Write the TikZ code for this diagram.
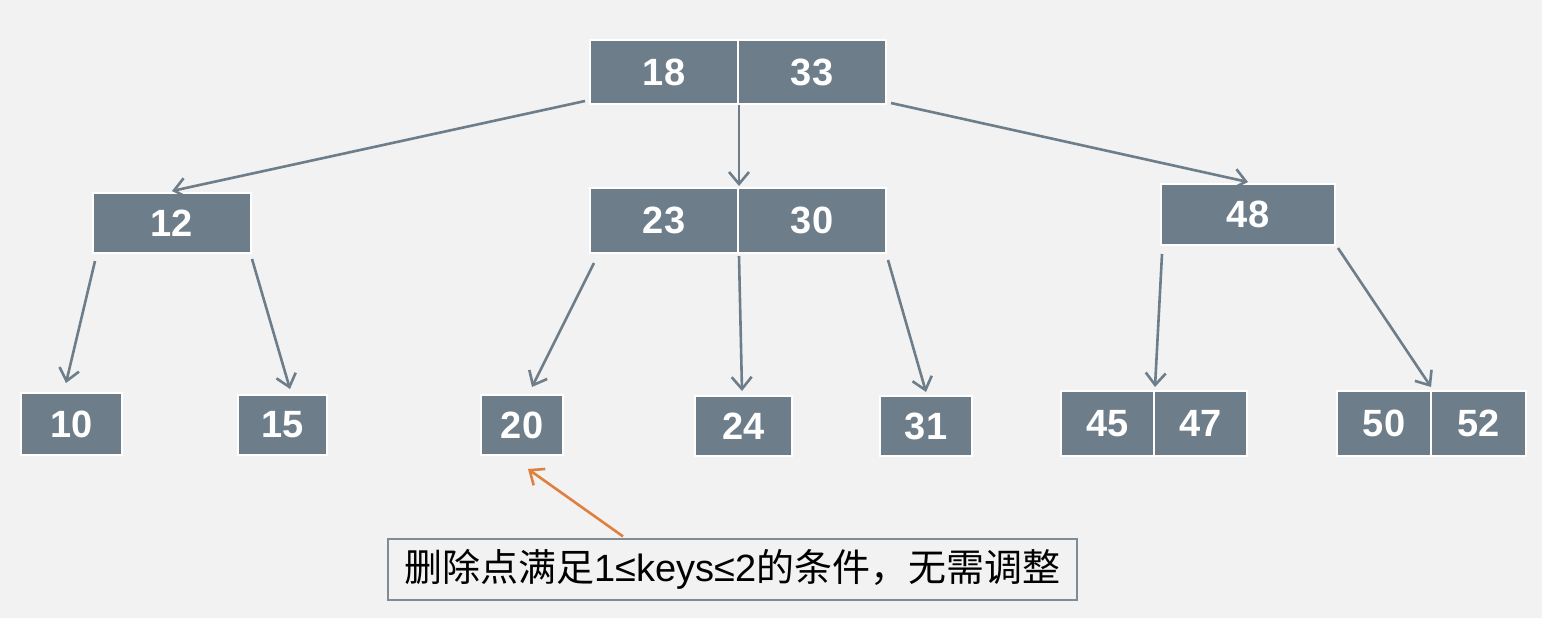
\documentclass[tikz,border=0pt]{standalone}
\usepackage{fontspec}
\setmainfont{Liberation Sans}
\newfontfamily\cjk{Noto Sans CJK SC}
\usetikzlibrary{arrows.meta,calc}
\definecolor{keyfill}{HTML}{6D7D89}
\definecolor{linkgray}{HTML}{6D7D89}
\definecolor{bggray}{HTML}{F2F2F2}
\definecolor{notefrm}{HTML}{7F8C96}
\definecolor{hintorange}{HTML}{E0803F}
\begin{document}
\begin{tikzpicture}[x=0.5pt, y=-0.5pt,
	key/.style={draw=white, line width=1pt, fill=keyfill, text=white, font=\fontsize{19}{21}\selectfont\bfseries, inner sep=0pt},
	link/.style={draw=linkgray, line width=1.3pt, -{Straight Barb[length=6pt,width=10pt,line width=1.3pt]}}]
	\fill [bggray] (0,0) rectangle (1542,618);
	\useasboundingbox (0,0) rectangle (1542,618);
	% root
	\node [key, minimum width=74pt, minimum height=32pt] (r1) at (664,72) {18};
	\node [key, minimum width=74pt, minimum height=32pt] (r2) at (812,72) {33};
	% second level
	\node [key, minimum width=79pt, minimum height=30pt] (a) at (172,223) {12};
	\node [key, minimum width=74pt, minimum height=32.5pt] (b1) at (664,220.5) {23};
	\node [key, minimum width=74pt, minimum height=32.5pt] (b2) at (812,220.5) {30};
	\node [key, minimum width=87pt, minimum height=30.5pt] (c) at (1248,214.5) {48};
	% leaves
	\node [key, minimum width=50.5pt, minimum height=31pt] (l1) at (71.5,424) {10};
	\node [key, minimum width=44.5pt, minimum height=30pt] (l2) at (282.5,425) {15};
	\node [key, minimum width=41pt, minimum height=30pt] (l3) at (522,425) {20};
	\node [key, minimum width=48.5pt, minimum height=30pt] (l4) at (743.5,426) {24};
	\node [key, minimum width=46pt, minimum height=30pt] (l5) at (926,426) {31};
	\node [key, minimum width=46.5pt, minimum height=32.5pt] (l6a) at (1107.5,423.5) {45};
	\node [key, minimum width=46.5pt, minimum height=32.5pt] (l6b) at (1200.5,423.5) {47};
	\node [key, minimum width=47pt, minimum height=32.5pt] (l7a) at (1384,423.5) {50};
	\node [key, minimum width=47.5pt, minimum height=32.5pt] (l7b) at (1478.5,423.5) {52};
	% note
	\node [draw=notefrm, line width=0.6pt, fill=bggray, minimum width=344.5pt, minimum height=30.5pt, inner sep=0pt, font=\fontsize{19}{21}\selectfont] (note) at (732.5,569.5)
		{{\cjk 删除点满足}1≤keys≤2{\cjk 的条件，无需调整}};
	% links
	\draw [link] ($(r1.south west)+(-4,-4)$) -- ($(a.north)+(0,-1)$);
	\draw [link] (r1.south east) -- ($(b1.north east)+(0,-1)$);
	\draw [link] ($(r2.south east)+(4,-2)$) -- ($(c.north)+(0,-1)$);
	\draw [link] ($(a.south west)+(3,7)$) -- ($(l1.north)+(-5.5,-9)$);
	\draw [link] ($(a.south east)+(0,5)$) -- ($(l2.north)+(7.5,-5)$);
	\draw [link] ($(b1.south west)+(5,9)$) -- ($(l3.north)+(10,-7)$);
	\draw [link] ($(b1.south east)+(0,2)$) -- ($(l4.north)+(-1.5,-4)$);
	\draw [link] ($(b2.south east)+(1,6)$) -- ($(l5.north)+(0,-3)$);
	\draw [link] ($(c.south west)+(2,8)$) -- ($(l6a.north east)+(0,-3)$);
	\draw [link] ($(c.south east)+(2,2)$) -- ($(l7a.north east)+(-1,-3)$);
	\draw [link, draw=hintorange] ($(note.north)+(-109.5,-2)$) -- ($(l3.south)+(6,13)$);
\end{tikzpicture}
\end{document}
